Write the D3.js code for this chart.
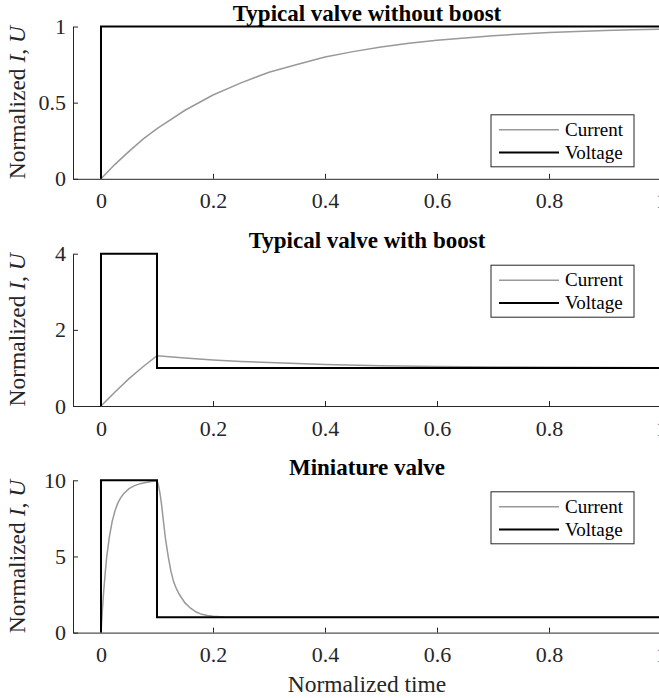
<!DOCTYPE html>
<html>
<head>
<meta charset="utf-8">
<script src="https://cdn.jsdelivr.net/npm/d3@7"></script>
<style>
  body { margin: 0; background: #fff; }
  svg { display: block; }
  svg text { font-family: "Liberation Serif", "Times New Roman", serif; }
</style>
</head>
<body>
<svg id="chart" width="659" height="698"></svg>
<script>
// panel titles and axis ticks
const titles = ['Typical valve without boost', 'Typical valve with boost', 'Miniature valve']
const yTicks = [[0, 0.5, 1], [0, 2, 4], [0, 5, 10]]
const yMax = [1, 4, 10]
const xTicks = [0, 0.2, 0.4, 0.6, 0.8, 1]
const legendLabels = ['Current', 'Voltage']
const legendCorner = ['bottom', 'top', 'top']

// voltage steps
const voltT = [[0, 0, 1], [0, 0, 0.1, 0.1, 1], [0, 0, 0.1, 0.1, 1]]
const voltV = [[0, 1, 1], [0, 4, 4, 1, 1], [0, 10, 10, 1, 1]]

// current traces
const curT1 = [0, 0.025, 0.05, 0.075, 0.1, 0.15, 0.2, 0.25, 0.3, 0.35, 0.4, 0.45, 0.5, 0.55, 0.6, 0.65, 0.7, 0.75, 0.8, 0.85, 0.9, 0.95, 1]
const curI1 = [0, 0.095, 0.18, 0.26, 0.33, 0.45, 0.55, 0.63, 0.70, 0.75, 0.80, 0.835, 0.865, 0.89, 0.91, 0.925, 0.94, 0.95, 0.96, 0.967, 0.973, 0.978, 0.982]

const curT2 = [0, 0.025, 0.05, 0.075, 0.1, 0.15, 0.2, 0.25, 0.3, 0.4, 0.5, 0.6, 0.7, 0.8, 0.9, 1]
const curI2 = [0, 0.37, 0.72, 1.03, 1.32, 1.26, 1.21, 1.17, 1.14, 1.09, 1.06, 1.04, 1.025, 1.015, 1.01, 1.006]

const curT3 = [0, 0.0025, 0.005, 0.0075, 0.01, 0.015, 0.02, 0.025, 0.03, 0.035, 0.04, 0.05, 0.06, 0.07, 0.08, 0.09, 0.1,
  0.1025, 0.105, 0.1075, 0.11, 0.1125, 0.115, 0.12, 0.125, 0.13, 0.135, 0.14, 0.15, 0.16, 0.17, 0.18, 0.19, 0.2, 0.22, 0.25, 0.3, 1]
const curI3 = [0, 1.5, 2.8, 3.9, 4.9, 6.3, 7.3, 8.0, 8.5, 8.85, 9.1, 9.45, 9.65, 9.78, 9.86, 9.92, 9.96,
  9.7, 9.2, 8.6, 7.8, 7.0, 6.2, 5.0, 4.0, 3.3, 2.85, 2.5, 1.95, 1.6, 1.35, 1.2, 1.12, 1.07, 1.02, 1.005, 1.0, 1.0]

const curT = [curT1, curT2, curT3]
const curI = [curI1, curI2, curI3]

const svg = d3.select('#chart')
const serif = '"Liberation Serif", "Times New Roman", serif'
const axisColor = '#262626'
const gray = '#999999'

const x = d3.scaleLinear().domain([-0.05, 1]).range([73, 661])
const panelTop = [26.5, 253.7, 480.3]
const panelH = 152.3

titles.forEach((title, i) => {
  const top = panelTop[i]
  const y = d3.scaleLinear().domain([0, yMax[i]]).range([top + panelH, top])
  const g = svg.append('g')

  // x axis, ticks pointing into the plot
  const xAxis = g.append('g')
    .attr('transform', `translate(0,${top + panelH})`)
    .call(d3.axisBottom(x).tickValues(xTicks).tickSizeInner(-5).tickSizeOuter(0).tickPadding(14).tickFormat(d3.format('~g')))
  // y axis
  const yAxis = g.append('g')
    .attr('transform', `translate(${x.range()[0]},0)`)
    .call(d3.axisLeft(y).tickValues(yTicks[i]).tickSizeInner(-5).tickSizeOuter(0).tickPadding(7).tickFormat(d3.format('~g')))
  ;[xAxis, yAxis].forEach((a) => {
    a.attr('font-family', serif).attr('font-size', 22)
    a.selectAll('path, line').attr('stroke', axisColor)
    a.selectAll('text').attr('fill', axisColor).attr('font-family', serif)
  })

  const line = d3.line().x((d) => x(d[0])).y((d) => y(d[1]))

  g.append('path')
    .datum(curT[i].map((t, k) => [t, curI[i][k]]))
    .attr('d', line)
    .attr('fill', 'none')
    .attr('stroke', gray)
    .attr('stroke-width', 1.5)

  g.append('path')
    .datum(voltT[i].map((t, k) => [t, voltV[i][k]]))
    .attr('d', line)
    .attr('fill', 'none')
    .attr('stroke', '#000')
    .attr('stroke-width', 2)

  // title
  g.append('text')
    .attr('x', (x.range()[0] + x.range()[1]) / 2)
    .attr('y', top - 5.5)
    .attr('text-anchor', 'middle')
    .attr('font-family', serif)
    .attr('font-weight', 'bold')
    .attr('font-size', 23)
    .text(title)

  // y label
  const yl = g.append('text')
    .attr('transform', `translate(25,${top + panelH / 2}) rotate(-90)`)
    .attr('text-anchor', 'middle')
    .attr('font-family', serif)
    .attr('font-size', 23.5)
    .attr('fill', axisColor)
  yl.append('tspan').text('Normalized ')
  yl.append('tspan').attr('font-style', 'italic').text('I')
  yl.append('tspan').text(', ')
  yl.append('tspan').attr('font-style', 'italic').text('U')

  // legend
  const lx = 491, lw = 143, lh = 52
  const ly = legendCorner[i] === 'top' ? top + 11.5 : top + panelH - 12 - lh
  const leg = g.append('g').attr('transform', `translate(${lx},${ly})`)
  leg.append('rect')
    .attr('width', lw).attr('height', lh)
    .attr('fill', '#fff').attr('stroke', axisColor).attr('stroke-width', 1)
  legendLabels.forEach((lab, k) => {
    const cy = 15 + k * 22.7
    leg.append('line')
      .attr('x1', 8).attr('x2', 68).attr('y1', cy).attr('y2', cy)
      .attr('stroke', k === 0 ? gray : '#000')
      .attr('stroke-width', k === 0 ? 1.5 : 2)
    leg.append('text')
      .attr('x', 74).attr('y', cy).attr('dy', '0.33em')
      .attr('font-family', serif)
      .attr('font-size', 19)
      .text(lab)
  })
})

// x label, shared by the bottom panel
svg.append('text')
  .attr('x', 367)
  .attr('y', 692)
  .attr('text-anchor', 'middle')
  .attr('font-family', serif)
  .attr('font-size', 23.5)
  .attr('fill', axisColor)
  .text('Normalized time')
</script>
</body>
</html>
